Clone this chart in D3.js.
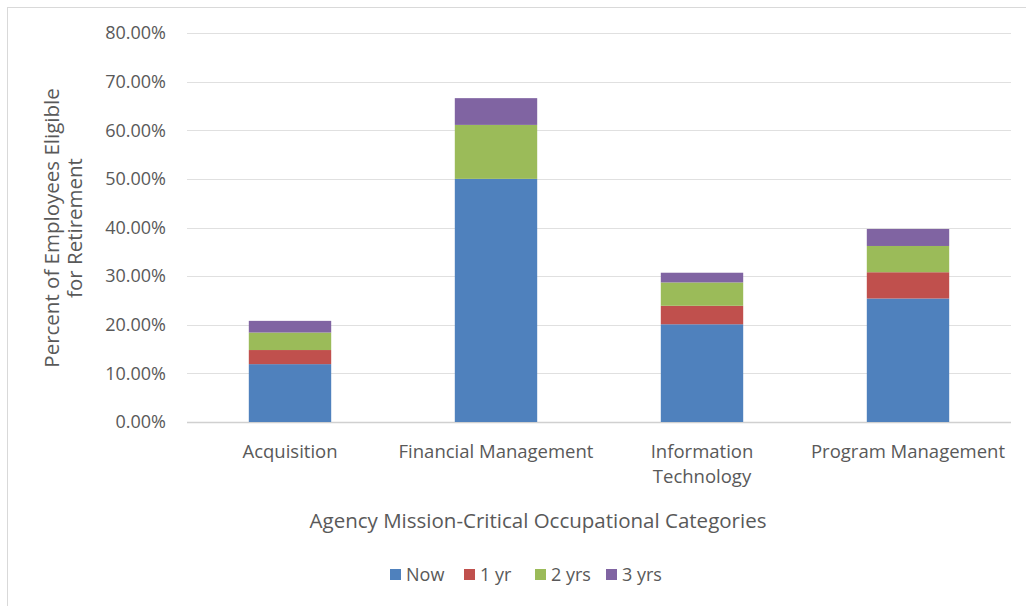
<!DOCTYPE html>
<html><head><meta charset="utf-8">
<script src="https://cdn.jsdelivr.net/npm/d3@7"></script>
<style>body{margin:0;background:#fff;} text{font-family:"Open Sans","Liberation Sans",sans-serif;fill:#595959;}</style>
</head><body>
<svg id="c" width="1026" height="606"></svg>
<script>
const categories = ["Acquisition","Financial Management","Information Technology","Program Management"];
const categoryLines = [["Acquisition"],["Financial Management"],["Information","Technology"],["Program Management"]];
const seriesNames = ["Now","1 yr","2 yrs","3 yrs"];
const nowVals = [0.119, 0.500, 0.201, 0.254];
const yr1Vals = [0.029, 0.000, 0.038, 0.054];
const yr2Vals = [0.036, 0.111, 0.048, 0.054];
const yr3Vals = [0.024, 0.055, 0.020, 0.035];
const yTicks = [0,0.1,0.2,0.3,0.4,0.5,0.6,0.7,0.8];
const colors = ["#4f81bd","#c0504d","#9bbb59","#8064a2"];

const svg = d3.select("#c");
svg.append("rect").attr("x",7.5).attr("y",7.5).attr("width",1030).attr("height",620)
  .attr("fill","#fff").attr("stroke","#d9d9d9");

const m = {l:187,r:1011,t:33,b:422};
const x = d3.scaleBand().domain(categories).range([m.l,m.r]).paddingInner(0.6).paddingOuter(0.3);
const y = d3.scaleLinear().domain([0,0.8]).range([m.b,m.t]);

// gridlines
svg.append("g").selectAll("line").data(yTicks).join("line")
  .attr("x1",m.l).attr("x2",m.r).attr("y1",d=>Math.round(y(d))+0.5).attr("y2",d=>Math.round(y(d))+0.5)
  .attr("stroke",d=>d===0?"#d0d0d0":"#e0e0e0").attr("stroke-width",d=>d===0?1.5:1.2);

// y tick labels
const yAxis = d3.axisLeft(y).tickValues(yTicks).tickFormat(d=>(d*100).toFixed(2)+"%").tickSize(0).tickPadding(21);
const ya = svg.append("g").attr("transform",`translate(${m.l},0)`).call(yAxis);
ya.select(".domain").remove();
ya.selectAll("text").style("font-size","18px").attr("fill","#595959").attr("font-family","'Open Sans',sans-serif");

// stacked data
const rows = categories.map((c,i)=>({cat:c,"Now":nowVals[i],"1 yr":yr1Vals[i],"2 yrs":yr2Vals[i],"3 yrs":yr3Vals[i]}));
const stack = d3.stack().keys(seriesNames)(rows);
svg.append("g").selectAll("g").data(stack).join("g").attr("fill",(d,i)=>colors[i])
  .selectAll("rect").data(d=>d).join("rect")
  .attr("x",d=>x(d.data.cat)).attr("width",x.bandwidth())
  .attr("y",d=>y(d[1])).attr("height",d=>y(d[0])-y(d[1]));

// x labels
const xl = svg.append("g");
categories.forEach((c,i)=>{
  const t = xl.append("text").attr("x",x(c)+x.bandwidth()/2).attr("y",458).attr("text-anchor","middle").style("font-size","18.5px");
  categoryLines[i].forEach((ln,j)=>t.append("tspan").attr("x",x(c)+x.bandwidth()/2).attr("dy",j?25:0).text(ln));
});

// axis titles
svg.append("text").attr("x",538).attr("y",528).attr("text-anchor","middle").style("font-size","20.5px")
  .text("Agency Mission-Critical Occupational Categories");
const yt = svg.append("text").attr("transform","translate(59,228) rotate(-90)").attr("text-anchor","middle").style("font-size","20.5px");
yt.append("tspan").attr("x",0).attr("dy",0).text("Percent of Employees Eligible");
yt.append("tspan").attr("x",0).attr("dy",23).text("for Retirement");

// legend
const legX = [390,464,535,606];
const lg = svg.append("g");
seriesNames.forEach((s,i)=>{
  lg.append("rect").attr("x",legX[i]).attr("y",569).attr("width",11).attr("height",11).attr("fill",colors[i]);
  lg.append("text").attr("x",legX[i]+16).attr("y",581).style("font-size","18px").text(s);
});
</script>
</body></html>
